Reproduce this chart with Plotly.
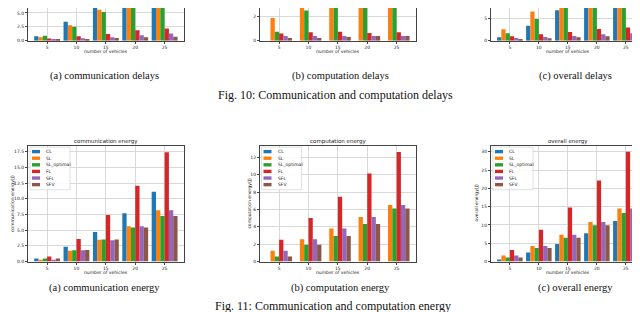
import plotly.graph_objects as go

# ---------------- data ----------------
vehicles = [5, 10, 15, 20, 25]
methods = ["CL", "SL", "SL_optimal", "FL", "SFL", "SFV"]

# order of rows follows `methods`
comm_delays = [
    [0.8, 3.4, 7.0, 9.5, 12.0],
    [0.6, 2.8, 5.6, 8.3, 11.0],
    [0.9, 2.5, 5.2, 7.8, 10.5],
    [0.4, 0.8, 1.2, 1.9, 2.2],
    [0.15, 0.45, 0.6, 1.0, 1.3],
    [0.15, 0.3, 0.5, 0.6, 0.7],
]
comp_delays = [
    [0, 0, 0, 0, 0],
    [1.9, 3.9, 5.8, 7.7, 9.6],
    [0.75, 2.55, 5.3, 6.2, 7.0],
    [0.6, 0.7, 0.75, 0.65, 0.7],
    [0.4, 0.4, 0.4, 0.4, 0.4],
    [0.22, 0.22, 0.3, 0.4, 0.4],
]
overall_delays = [
    [0.8, 3.4, 7.0, 9.5, 12.0],
    [2.6, 6.7, 11.4, 15.0, 19.0],
    [1.7, 5.0, 10.5, 14.0, 17.5],
    [1.0, 1.5, 2.0, 2.7, 3.0],
    [0.6, 0.85, 1.05, 1.5, 1.7],
    [0.35, 0.55, 0.8, 1.0, 1.2],
]
comm_energy = [
    [0.47, 2.35, 4.7, 7.7, 11.1],
    [0.3, 1.72, 3.45, 5.6, 8.15],
    [0.5, 1.8, 3.5, 5.4, 7.25],
    [0.8, 3.6, 7.4, 12.07, 17.4],
    [0.3, 1.8, 3.4, 5.6, 8.15],
    [0.5, 1.85, 3.5, 5.4, 7.25],
]
comp_energy = [
    [0, 0, 0, 0, 0],
    [1.25, 2.58, 3.8, 5.13, 6.5],
    [0.57, 1.94, 2.93, 4.33, 6.12],
    [2.5, 5.02, 7.45, 10.15, 12.62],
    [1.25, 2.58, 3.8, 5.13, 6.5],
    [0.57, 1.94, 2.93, 4.33, 6.12],
]
overall_energy = [
    [0.55, 2.44, 4.79, 7.77, 11.1],
    [1.63, 4.25, 7.32, 10.84, 14.54],
    [1.08, 3.7, 6.5, 9.94, 13.3],
    [3.16, 8.67, 14.8, 22.2, 30.0],
    [1.63, 4.25, 7.32, 10.84, 14.54],
    [1.08, 3.7, 6.5, 9.94, 13.3],
]

panel_titles = ["communication energy", "computation energy", "overall energy"]
ylabels = ["communication energy(J)", "computation energy(J)", "overall energy(J)"]
xlabel = "number of vehicles"
sub_captions_top = ["(a) communication delays", "(b) computation delays", "(c) overall delays"]
sub_captions_bot = ["(a) communication energy", "(b) computation energy", "(c) overall energy"]
fig10_caption = "Fig. 10: Communication and computation delays"
fig11_caption = "Fig. 11: Communication and computation energy"

# ---------------- style / layout ----------------
colors = ["#1f77b4", "#ff7f0e", "#2ca02c", "#d62728", "#9467bd", "#8c564b"]
W, H = 640, 312
SANS = "DejaVu Sans"
SERIF = "Liberation Serif"
FRAME = "#444444"
GRID = "#d9d9d9"


def px(x):
    return x / W


def py(y):
    return 1 - y / H


cols = [(20, 176), (252, 408), (483, 637)]
rows = [(0, 33), (139, 256)]

panels = [
    # data, row, col, yrange, dtick, fmt
    (comm_delays, 0, 0, 5.9, 2.5, ".1f"),
    (comp_delays, 0, 1, 2.75, 2, "d"),
    (overall_delays, 0, 2, 7.5, 5, "d"),
    (comm_energy, 1, 0, 18.45, 2.5, ".1f"),
    (comp_energy, 1, 1, 13.35, 2, "d"),
    (overall_energy, 1, 2, 31.7, 5, "d"),
]

positions = list(range(len(vehicles)))

fig = go.Figure()
layout = dict(
    width=W, height=H,
    margin=dict(l=0, r=0, t=0, b=0),
    paper_bgcolor="white", plot_bgcolor="white",
    barmode="group", bargap=0.12, bargroupgap=0,
    showlegend=False,
    font=dict(family=SANS, size=5, color="#222"),
)

annotations = []
shapes = []

for i, (data, r, c, ymax, dtick, fmt) in enumerate(panels):
    k = "" if i == 0 else str(i + 1)
    xa, ya = "x" + k, "y" + k
    for m, name in enumerate(methods):
        fig.add_trace(go.Bar(
            x=positions, y=data[m], name=name,
            marker=dict(color=colors[m], line=dict(width=0)),
            xaxis=xa, yaxis=ya, showlegend=False,
        ))
    x0, x1 = cols[c]
    y0, y1 = rows[r]
    layout["xaxis" + k] = dict(
        domain=[px(x0), px(x1)], range=[-0.65, 4.66], anchor=ya,
        tickvals=positions, ticktext=[str(v) for v in vehicles],
        showgrid=True, gridcolor=GRID, gridwidth=1,
        showline=True, linecolor=FRAME, linewidth=1, mirror=(r == 1),
        ticks="outside", ticklen=2, tickcolor=FRAME, tickwidth=0.6,
        tickfont=dict(size=4.5, family=SANS, color="#222"),
        zeroline=False, fixedrange=True,
    )
    layout["yaxis" + k] = dict(
        domain=[py(y1), py(y0)], range=[0, ymax], anchor=xa,
        dtick=dtick, tick0=0, tickformat=fmt,
        showgrid=True, gridcolor=GRID, gridwidth=1,
        showline=True, linecolor=FRAME, linewidth=1, mirror=True,
        ticks="outside", ticklen=2, tickcolor=FRAME, tickwidth=0.6,
        tickfont=dict(size=4.5, family=SANS, color="#222"),
        zeroline=False, fixedrange=True,
    )
    xc = (x0 + x1) / 2
    # x axis title
    annotations.append(dict(
        x=px(xc), y=py(y1 + 11), xref="paper", yref="paper",
        text=xlabel, showarrow=False, xanchor="center", yanchor="middle",
        font=dict(size=4.5, family=SANS, color="#222"),
    ))
    if r == 1:
        annotations.append(dict(
            x=px(xc), y=py(135), xref="paper", yref="paper",
            text=panel_titles[c], showarrow=False, xanchor="center", yanchor="middle",
            font=dict(size=5.5, family=SANS, color="#222"),
        ))
        ylab_x = [4.5, 242, 469][c]
        annotations.append(dict(
            x=px(ylab_x), y=py((y0 + y1) / 2), xref="paper", yref="paper",
            text=ylabels[c], showarrow=False, textangle=-90,
            xanchor="center", yanchor="middle",
            font=dict(size=4.5, family=SANS, color="#222"),
        ))
        # legend drawn by hand (matplotlib-like)
        lx = [22, 253.5, 485][c]
        ly = 140.5
        lw, lh = 40, 43
        shapes.append(dict(
            type="rect", xref="paper", yref="paper",
            x0=px(lx), x1=px(lx + lw), y0=py(ly + lh), y1=py(ly),
            line=dict(color="#cccccc", width=0.6), fillcolor="rgba(255,255,255,0.85)",
        ))
        for m, name in enumerate(methods):
            cy = 145 + 6.67 * m
            shapes.append(dict(
                type="rect", xref="paper", yref="paper",
                x0=px(lx + 2), x1=px(lx + 10), y0=py(cy + 1.7), y1=py(cy - 1.7),
                line=dict(width=0), fillcolor=colors[m],
            ))
            annotations.append(dict(
                x=px(lx + 14), y=py(cy), xref="paper", yref="paper",
                text=name, showarrow=False, xanchor="left", yanchor="middle",
                font=dict(size=4.5, family=SANS, color="#222"),
            ))

# captions
cap_x = [96, 332, 567]
for c in range(3):
    annotations.append(dict(
        x=px(cap_x[c]), y=py(69), xref="paper", yref="paper",
        text=sub_captions_top[c], showarrow=False, xanchor="center", yanchor="middle",
        font=dict(size=10.5, family=SERIF, color="#111"),
    ))
    annotations.append(dict(
        x=px(cap_x[c]), y=py(283), xref="paper", yref="paper",
        text=sub_captions_bot[c], showarrow=False, xanchor="center", yanchor="middle",
        font=dict(size=10.5, family=SERIF, color="#111"),
    ))
annotations.append(dict(
    x=px(327), y=py(88), xref="paper", yref="paper",
    text=fig10_caption, showarrow=False, xanchor="center", yanchor="middle",
    font=dict(size=12, family=SERIF, color="#111"),
))
annotations.append(dict(
    x=px(325), y=py(301), xref="paper", yref="paper",
    text=fig11_caption, showarrow=False, xanchor="center", yanchor="middle",
    font=dict(size=12, family=SERIF, color="#111"),
))

layout["annotations"] = annotations
layout["shapes"] = shapes
fig.update_layout(**layout)
fig.write_html("out.html")
